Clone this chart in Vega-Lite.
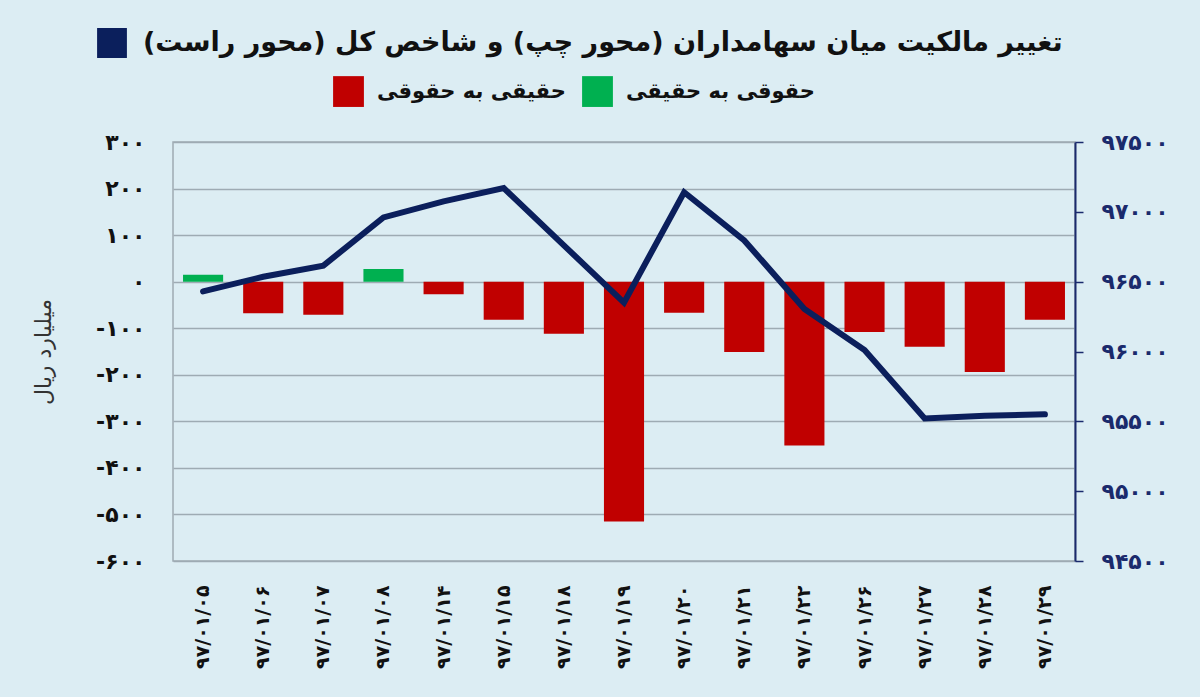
{
  "$schema": "https://vega.github.io/schema/vega-lite/v6.json",
  "autosize": {"type": "none"},
  "width": 902,
  "height": 419,
  "padding": {"left": 173, "top": 142, "right": 125, "bottom": 136},
  "background": "#dcedf3",
  "config": {
    "font": "DejaVu Sans",
    "view": {"stroke": "#9eabb3", "strokeWidth": 1.5}
  },
  "data": {
    "values": [
      {"date": "۹۷/۰۱/۰۵", "flow": 15, "type": "حقوقی به حقیقی", "index": 96430},
      {"date": "۹۷/۰۱/۰۶", "flow": -68, "type": "حقیقی به حقوقی", "index": 96535},
      {"date": "۹۷/۰۱/۰۷", "flow": -71, "type": "حقیقی به حقوقی", "index": 96615},
      {"date": "۹۷/۰۱/۰۸", "flow": 27, "type": "حقوقی به حقیقی", "index": 96960},
      {"date": "۹۷/۰۱/۱۴", "flow": -27, "type": "حقیقی به حقوقی", "index": 97075},
      {"date": "۹۷/۰۱/۱۵", "flow": -82, "type": "حقیقی به حقوقی", "index": 97170},
      {"date": "۹۷/۰۱/۱۸", "flow": -112, "type": "حقیقی به حقوقی", "index": 96760},
      {"date": "۹۷/۰۱/۱۹", "flow": -515, "type": "حقیقی به حقوقی", "index": 96350},
      {"date": "۹۷/۰۱/۲۰", "flow": -67, "type": "حقیقی به حقوقی", "index": 97140},
      {"date": "۹۷/۰۱/۲۱", "flow": -151, "type": "حقیقی به حقوقی", "index": 96795},
      {"date": "۹۷/۰۱/۲۲", "flow": -352, "type": "حقیقی به حقوقی", "index": 96305},
      {"date": "۹۷/۰۱/۲۶", "flow": -108, "type": "حقیقی به حقوقی", "index": 96010},
      {"date": "۹۷/۰۱/۲۷", "flow": -140, "type": "حقیقی به حقوقی", "index": 95520},
      {"date": "۹۷/۰۱/۲۸", "flow": -194, "type": "حقیقی به حقوقی", "index": 95540},
      {"date": "۹۷/۰۱/۲۹", "flow": -82, "type": "حقیقی به حقوقی", "index": 95550}
    ]
  },
  "encoding": {
    "x": {
      "field": "date",
      "type": "nominal",
      "sort": null,
      "scale": {"paddingInner": 0.333, "paddingOuter": 0.1667},
      "axis": {
        "title": null,
        "labelAngle": -90,
        "labelFontSize": 19,
        "labelFontWeight": "bold",
        "labelColor": "#111111",
        "labelPadding": 24,
        "ticks": false,
        "domain": false,
        "grid": false
      }
    }
  },
  "layer": [
    {
      "mark": {"type": "bar"},
      "encoding": {
        "y": {
          "field": "flow",
          "type": "quantitative",
          "scale": {"domain": [-600, 300], "nice": false, "zero": false},
          "axis": {
            "orient": "left",
            "values": [-600, -500, -400, -300, -200, -100, 0, 100, 200, 300],
            "title": "میلیارد ریال",
            "titleFontSize": 22,
            "titleFontWeight": "normal",
            "titleColor": "#333333",
            "titlePadding": 40,
            "labelExpr": "replace(replace(replace(replace(replace(replace(replace(replace(replace(replace(toString(datum.value), regexp('0','g'), '۰'), regexp('1','g'), '۱'), regexp('2','g'), '۲'), regexp('3','g'), '۳'), regexp('4','g'), '۴'), regexp('5','g'), '۵'), regexp('6','g'), '۶'), regexp('7','g'), '۷'), regexp('8','g'), '۸'), regexp('9','g'), '۹')",
            "labelFontSize": 22,
            "labelFontWeight": "bold",
            "labelColor": "#111111",
            "labelPadding": 28,
            "ticks": false,
            "domain": false,
            "grid": true,
            "gridColor": "#9eabb3",
            "gridWidth": 1.5
          }
        },
        "fill": {
          "field": "type",
          "type": "nominal",
          "scale": {"domain": ["حقیقی به حقوقی", "حقوقی به حقیقی"], "range": ["#c00000", "#00b050"]},
          "legend": {
            "title": null,
            "orient": "none",
            "direction": "horizontal",
            "legendX": 160,
            "legendY": -66,
            "padding": 0,
            "symbolType": "square",
            "symbolSize": 950,
            "symbolStrokeWidth": 0,
            "labelFont": "DejaVu Sans",
            "labelFontSize": 21,
            "labelFontWeight": "bold",
            "labelColor": "#111111",
            "labelOffset": 13,
            "labelLimit": 1000,
            "columnPadding": 16
          }
        }
      }
    },
    {
      "mark": {"type": "line", "strokeWidth": 6, "strokeCap": "round", "strokeJoin": "miter"},
      "encoding": {
        "y": {
          "field": "index",
          "type": "quantitative",
          "scale": {"domain": [94500, 97500], "nice": false, "zero": false},
          "axis": {
            "orient": "right",
            "title": null,
            "values": [94500, 95000, 95500, 96000, 96500, 97000, 97500],
            "labelExpr": "replace(replace(replace(replace(replace(replace(replace(replace(replace(replace(toString(datum.value), regexp('0','g'), '۰'), regexp('1','g'), '۱'), regexp('2','g'), '۲'), regexp('3','g'), '۳'), regexp('4','g'), '۴'), regexp('5','g'), '۵'), regexp('6','g'), '۶'), regexp('7','g'), '۷'), regexp('8','g'), '۸'), regexp('9','g'), '۹')",
            "labelFontSize": 22,
            "labelFontWeight": "bold",
            "labelColor": "#1a2a6c",
            "labelPadding": 18,
            "ticks": true,
            "tickSize": 8,
            "tickColor": "#1a2a6c",
            "tickWidth": 1.5,
            "domain": true,
            "domainColor": "#1a2a6c",
            "domainWidth": 2,
            "grid": false
          }
        },
        "stroke": {
          "datum": "تغییر مالکیت میان سهامداران (محور چپ) و شاخص کل (محور راست)‏",
          "type": "nominal",
          "scale": {"range": ["#0b1f5c"]},
          "legend": {
            "title": null,
            "orient": "none",
            "legendX": -76,
            "legendY": -114,
            "padding": 0,
            "symbolType": "square",
            "symbolSize": 800,
            "labelFont": "DejaVu Sans",
            "labelFontSize": 27,
            "labelFontWeight": "bold",
            "labelColor": "#111111",
            "labelOffset": 16,
            "labelLimit": 1100,
            "encode": {
              "symbols": {
                "update": {
                  "fill": {"value": "#0b1f5c"},
                  "stroke": {"value": "#c3cfee"},
                  "strokeWidth": {"value": 1.5}
                }
              }
            }
          }
        }
      }
    }
  ],
  "resolve": {"scale": {"y": "independent"}}
}
